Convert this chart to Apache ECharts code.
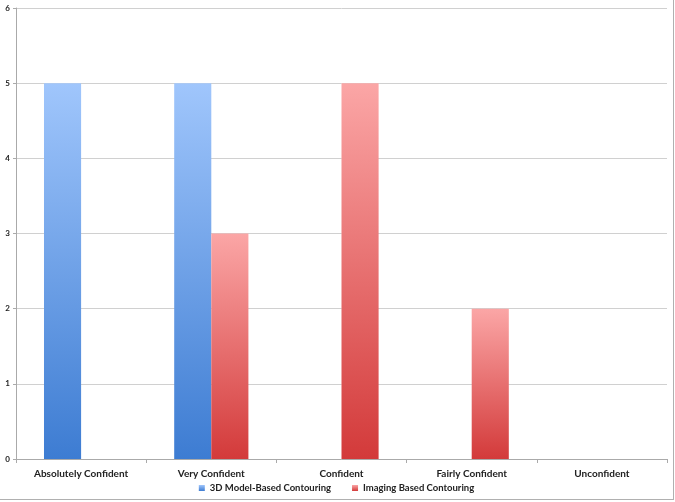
<!DOCTYPE html>
<html><head><meta charset="utf-8">
<script src="https://cdn.jsdelivr.net/npm/echarts@6/dist/echarts.min.js"></script>
<style>html,body{margin:0;padding:0;background:#fff}#c{width:674px;height:500px;box-sizing:border-box;border:1px solid #b0b0b0;border-top:none;border-left:none}</style>
</head><body><div id="c"></div>
<script>
const categories = ["Absolutely Confident","Very Confident","Confident","Fairly Confident","Unconfident"];
const model3D = [5,5,0,0,0];
const imaging = [0,3,5,2,0];
const yTicks = [0,1,2,3,4,5,6];
const chart = echarts.init(document.getElementById('c'));
const grad = (t,b)=>new echarts.graphic.LinearGradient(0,0,0,1,[{offset:0,color:t},{offset:1,color:b}]);
const font = 'Lato';
chart.setOption({
  animation:false,
  grid:{left:16,right:6,top:8,bottom:40},
  legend:{bottom:1,left:'center',itemWidth:6,itemHeight:6,itemGap:21,icon:'rect',
    textStyle:{fontFamily:font,fontWeight:'bold',fontSize:9.5,color:'#222'}},
  xAxis:{type:'category',data:categories,
    axisLine:{lineStyle:{color:'#aaa'}},axisTick:{show:true,length:4,lineStyle:{color:'#aaa'}},
    axisLabel:{interval:0,fontFamily:font,fontWeight:'bold',fontSize:10,color:'#222',margin:10}},
  yAxis:{type:'value',min:0,max:6,interval:1,
    axisLine:{show:true,lineStyle:{color:'#aaa'}},axisTick:{show:true,length:3,lineStyle:{color:'#aaa'}},
    splitLine:{lineStyle:{color:'#d0d0d0'}},
    axisLabel:{fontFamily:font,fontWeight:'bold',fontSize:8,color:'#222',margin:6,
      formatter:v=>yTicks.includes(v)?String(v):''}},
  series:[
    {name:'3D Model-Based Contouring',type:'bar',data:model3D,barGap:'0%',barCategoryGap:'43%',
     itemStyle:{color:grad('#a0c6fc','#3d7cd2')}},
    {name:'Imaging Based Contouring',type:'bar',data:imaging,
     itemStyle:{color:grad('#fba6a6','#d33a3a')}}
  ]
});
</script></body></html>
